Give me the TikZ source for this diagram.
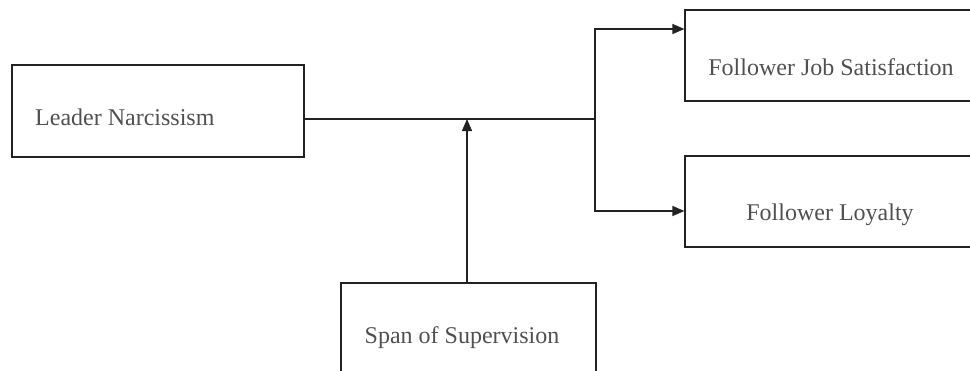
\documentclass[tikz,border=0pt]{standalone}
\usepackage{fontspec}
\setmainfont{Liberation Serif}
\usetikzlibrary{arrows.meta}
\definecolor{linec}{HTML}{222222}
\definecolor{textc}{HTML}{505050}
\begin{document}
\begin{tikzpicture}[x=1pt,y=-1pt,
  box/.style={draw=linec,line width=1.2pt,rectangle,inner sep=0pt},
  lbl/.style={text=textc,font=\fontsize{24}{28}\selectfont,inner sep=0pt,anchor=base},
  conn/.style={draw=linec,line width=1.3pt},
  arr/.style={conn,-{Triangle[length=12pt,width=10pt]}}]
\useasboundingbox (0,0) rectangle (970,370);
\clip (0,0) rectangle (970,370);
% boxes
\node[box,minimum width=292pt,minimum height=92pt] (ln) at (158,111) {};
\node[box,minimum width=300pt,minimum height=91pt] (fjs) at (835,55.5) {};
\node[box,minimum width=300pt,minimum height=91pt] (fl) at (835,201.5) {};
\node[box,minimum width=255pt,minimum height=110pt] (sos) at (468.5,338) {};
% texts
\node[lbl,anchor=base west] (lnt) at (35,125) {Leader Narcissism};
\node[lbl] (fjst) at (831,75) {Follower Job Satisfaction};
\node[lbl] (flt) at (830,220) {Follower Loyalty};
\node[lbl] (sost) at (462,343) {Span of Supervision};
% connectors
\coordinate (j) at (595,119);
\coordinate (ja) at (595,29);
\coordinate (jb) at (595,211);
\coordinate (m) at (467,119);
\draw[conn] (ln.east |- j) -- (j);
\draw[arr] (j) -- (ja) -- (fjs.west |- ja);
\draw[arr] (j) -- (jb) -- (fl.west |- jb);
\draw[arr] (sos.north -| m) -- (m);
\end{tikzpicture}
\end{document}
